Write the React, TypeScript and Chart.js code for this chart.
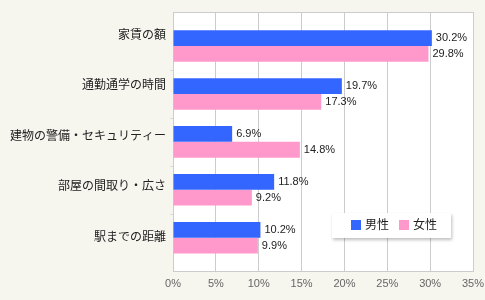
import React, { useEffect, useRef } from "react";
import { Chart, registerables } from "chart.js";

Chart.register(...registerables);

// Survey items (top to bottom) and share of respondents per group, in percent
const categories = [
  "家賃の額",
  "通勤通学の時間",
  "建物の警備・セキュリティー",
  "部屋の間取り・広さ",
  "駅までの距離",
];
const maleValues = [30.2, 19.7, 6.9, 11.8, 10.2];
const femaleValues = [29.8, 17.3, 14.8, 9.2, 9.9];
const seriesNames = ["男性", "女性"];
const seriesColors = ["#3366ff", "#ff99cc"];
const xTicks = [0, 5, 10, 15, 20, 25, 30, 35];

const FONT = "Arial, 'Liberation Sans', 'Noto Sans CJK JP', sans-serif";
const BG = "#f6f5ee";
const GRID = "#cccccc";

// White plot background, top frame line and small band separators on the y axis
const plotFrame = {
  id: "plotFrame",
  beforeDraw(chart: any) {
    const { ctx, chartArea: a } = chart;
    ctx.save();
    ctx.fillStyle = "#ffffff";
    ctx.fillRect(a.left, a.top, a.right - a.left, a.bottom - a.top);
    ctx.restore();
  },
  afterDraw(chart: any) {
    const { ctx, chartArea: a } = chart;
    const y = chart.scales.y;
    ctx.save();
    ctx.strokeStyle = GRID;
    ctx.lineWidth = 1;
    ctx.beginPath();
    ctx.moveTo(a.left, Math.round(a.top) + 0.5);
    ctx.lineTo(a.right + 0.5, Math.round(a.top) + 0.5);
    ctx.stroke();
    ctx.strokeStyle = "#dddddd";
    for (let i = 0; i < categories.length - 1; i++) {
      const py = Math.round(y.getPixelForValue(i + 0.5)) + 0.5;
      ctx.beginPath();
      ctx.moveTo(a.left - 3, py);
      ctx.lineTo(a.left, py);
      ctx.stroke();
    }
    ctx.restore();
  },
};

// Percentage labels to the right of every bar
const barLabels = {
  id: "barLabels",
  afterDatasetsDraw(chart: any) {
    const { ctx } = chart;
    ctx.save();
    ctx.font = `11px ${FONT}`;
    ctx.fillStyle = "#222222";
    ctx.textAlign = "left";
    ctx.textBaseline = "middle";
    chart.data.datasets.forEach((ds: any, di: number) => {
      const meta = chart.getDatasetMeta(di);
      meta.data.forEach((bar: any, i: number) => {
        const v = ds.data[i].x;
        ctx.fillText(`${v.toFixed(1)}%`, bar.x + 4, bar.y);
      });
    });
    ctx.restore();
  },
};

// Boxed legend inside the plot, lower right
const boxLegend = {
  id: "boxLegend",
  afterDraw(chart: any) {
    const { ctx } = chart;
    const x = 332, y = 213, w = 119, h = 25;
    ctx.save();
    ctx.shadowColor = "rgba(0,0,0,0.25)";
    ctx.shadowBlur = 3;
    ctx.shadowOffsetX = 1;
    ctx.shadowOffsetY = 2;
    ctx.fillStyle = "#ffffff";
    ctx.fillRect(x, y, w, h);
    ctx.restore();
    ctx.save();
    ctx.font = `12px ${FONT}`;
    ctx.textBaseline = "middle";
    ctx.textAlign = "left";
    let cx = x + 19;
    chart.data.datasets.forEach((ds: any) => {
      ctx.fillStyle = ds.backgroundColor;
      ctx.fillRect(cx, y + 7, 10, 10);
      ctx.fillStyle = "#222222";
      ctx.fillText(ds.label, cx + 14, y + 13);
      cx += 48;
    });
    ctx.restore();
  },
};

export default function App() {
  const canvasRef = useRef<HTMLCanvasElement | null>(null);

  useEffect(() => {
    document.body.style.margin = "0";
    const canvas = canvasRef.current;
    if (!canvas) return;
    const seriesData = [maleValues, femaleValues];
    const chart = new Chart(canvas, {
      type: "bar",
      data: {
        datasets: seriesData.map((vals, s) => ({
          label: seriesNames[s],
          data: vals.map((v, i) => ({ x: v, y: i })),
          backgroundColor: seriesColors[s],
          borderWidth: 0,
          categoryPercentage: 0.66,
          barPercentage: 1,
        })),
      },
      options: {
        indexAxis: "y",
        responsive: false,
        animation: false,
        layout: { padding: { top: 12, right: 12, left: 0, bottom: 0 } },
        plugins: {
          legend: { display: false },
          tooltip: { enabled: false },
        },
        scales: {
          x: {
            type: "linear",
            min: 0,
            max: 35,
            afterBuildTicks: (scale: any) => {
              scale.ticks = xTicks.map((v) => ({ value: v }));
            },
            afterFit: (scale: any) => {
              scale.height = 29;
              scale.paddingLeft = 0;
              scale.paddingRight = 0;
            },
            ticks: {
              callback: (v: any) => `${v}%`,
              color: "#666666",
              font: { family: FONT, size: 11 },
              padding: 6,
              maxRotation: 0,
            },
            grid: { color: GRID, drawTicks: false },
            border: { color: GRID },
          },
          // Bar positions (index axis); draws only the left frame line
          y: {
            type: "linear",
            position: "left",
            reverse: true,
            offset: false,
            min: -0.71,
            max: 4.695,
            afterBuildTicks: (scale: any) => {
              scale.ticks = categories.map((_, i) => ({ value: i }));
            },
            afterFit: (scale: any) => {
              scale.width = 0;
              scale.paddingTop = 0;
              scale.paddingBottom = 0;
            },
            ticks: { display: false },
            grid: { display: false, drawTicks: false, offset: false },
            border: { color: GRID },
          },
          // Category names, spread evenly down the plot
          yl: {
            type: "linear",
            position: "left",
            reverse: true,
            offset: false,
            min: -0.465,
            max: 4.663,
            afterBuildTicks: (scale: any) => {
              scale.ticks = categories.map((_, i) => ({ value: i }));
            },
            afterFit: (scale: any) => {
              scale.width = 173;
              scale.paddingTop = 0;
              scale.paddingBottom = 0;
            },
            ticks: {
              callback: (v: any) => categories[v] ?? "",
              color: "#222222",
              font: { family: FONT, size: 12 },
              padding: 7,
            },
            grid: { display: false, drawTicks: false },
            border: { display: false },
          },
        },
      },
      plugins: [plotFrame, barLabels, boxLegend],
    } as any);
    return () => chart.destroy();
  }, []);

  return (
    <div style={{ width: 485, height: 300, background: BG }}>
      <canvas ref={canvasRef} width={485} height={300} />
    </div>
  );
}
